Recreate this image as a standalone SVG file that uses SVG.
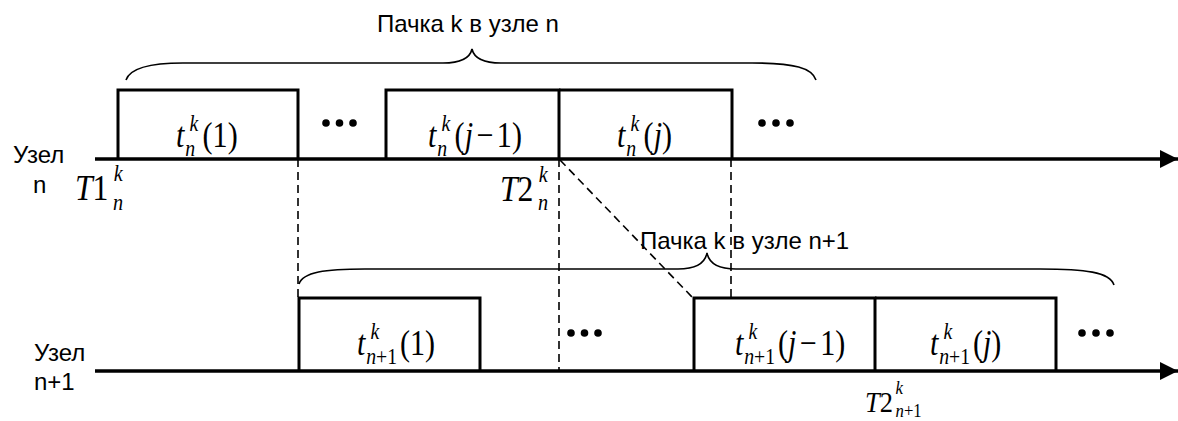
<svg xmlns="http://www.w3.org/2000/svg" width="1178" height="421" viewBox="0 0 1178 421">
<defs>
<style>
.ax{stroke:#000;stroke-width:3.5;fill:none}
.bx{stroke:#000;stroke-width:3;fill:none}
.ds{stroke:#000;stroke-width:1.6;stroke-dasharray:8 5;fill:none}
.br{stroke:#000;stroke-width:1.6;fill:none}
.lbl{font-family:"Liberation Sans",Arial,sans-serif;font-size:24px;fill:#000}
.m{font-family:"Liberation Serif","Times New Roman",serif;font-size:35px;fill:#000}
.mt{font-family:"Liberation Serif","Times New Roman",serif;font-size:36px;fill:#000}
.mb{font-family:"Liberation Serif","Times New Roman",serif;font-size:30px;fill:#000}
.i{font-style:italic}
.s{font-size:23px}
.ss{font-size:19px}
.dot{fill:#000}
</style>
<marker id="ah" markerUnits="userSpaceOnUse" markerWidth="20" markerHeight="20" refX="18" refY="9" orient="auto">
<path d="M0,0 L18,9 L0,18 z" fill="#000"/>
</marker>
</defs>
<rect width="1178" height="421" fill="#fff"/>

<g id="connectors">
<line class="ax" x1="95" y1="159" x2="1178" y2="159" marker-end="url(#ah)"/>
<line class="ax" x1="95" y1="371" x2="1178" y2="371" marker-end="url(#ah)"/>
<line class="ds" x1="298" y1="159" x2="298" y2="298"/>
<line class="ds" x1="559" y1="159" x2="559" y2="371"/>
<line class="ds" x1="731" y1="159" x2="731" y2="298"/>
<line class="ds" x1="560" y1="160" x2="692" y2="297"/>
</g>

<g id="brace-top">
<path class="br" d="M126,80 C130,68 150,63 183,63 L443,63 C462,63 470,58 472,49 C474,58 482,63 501,63 L752,63 C795,63 812,68 816,80"/>
<text class="lbl" x="377" y="32">Пачка k в узле n</text>
</g>
<g id="brace-bottom">
<path class="br" d="M299,284 C303,272 325,269 365,269 L678,269 C697,269 705,263 707,253 C709,263 717,269 736,269 L1040,269 C1085,269 1110,272 1114,285"/>
<text class="lbl" x="640" y="249">Пачка k в узле n+1</text>
</g>

<g id="node-label-n">
<text class="lbl" x="13" y="163">Узел</text>
<text class="lbl" x="33" y="193">n</text>
</g>
<g id="node-label-n1">
<text class="lbl" x="34" y="361">Узел</text>
<text class="lbl" x="34" y="390">n+1</text>
</g>

<g id="box-n-1">
<path class="bx" d="M118,159 V90 H298 V159"/>
<text class="m" transform="translate(176,147) scale(0.86,1)"><tspan class="i">t</tspan><tspan class="s i" dx="1" dy="9">n</tspan><tspan class="s i" dx="-6.5" dy="-25">k</tspan><tspan dx="5" dy="16">(1)</tspan></text>
</g>
<g id="box-n-j1">
<path class="bx" d="M386,159 V90 H559 V159"/>
<text class="m" transform="translate(428,147) scale(0.86,1)"><tspan class="i">t</tspan><tspan class="s i" dx="1" dy="9">n</tspan><tspan class="s i" dx="-6.5" dy="-25">k</tspan><tspan dx="5" dy="16">(</tspan><tspan class="i">j</tspan><tspan dx="4">−</tspan><tspan dx="4">1)</tspan></text>
</g>
<g id="box-n-j">
<path class="bx" d="M559,90 H732 V159"/>
<text class="m" transform="translate(617,147) scale(0.86,1)"><tspan class="i">t</tspan><tspan class="s i" dx="1" dy="9">n</tspan><tspan class="s i" dx="-6.5" dy="-25">k</tspan><tspan dx="5" dy="16">(</tspan><tspan class="i">j</tspan><tspan>)</tspan></text>
</g>

<g id="box-n1-1">
<path class="bx" d="M299,371 V298 H480 V371"/>
<text class="m" transform="translate(357,355) scale(0.86,1)"><tspan class="i">t</tspan><tspan class="s i" dx="1" dy="9">n</tspan><tspan class="s">+1</tspan><tspan class="s i" dx="-31" dy="-25">k</tspan><tspan dx="24" dy="16">(1)</tspan></text>
</g>
<g id="box-n1-j1">
<path class="bx" d="M694,371 V298 H875 V371"/>
<text class="m" transform="translate(735,355) scale(0.86,1)"><tspan class="i">t</tspan><tspan class="s i" dx="1" dy="9">n</tspan><tspan class="s">+1</tspan><tspan class="s i" dx="-31" dy="-25">k</tspan><tspan dx="24" dy="16">(</tspan><tspan class="i">j</tspan><tspan dx="4">−</tspan><tspan dx="4">1)</tspan></text>
</g>
<g id="box-n1-j">
<path class="bx" d="M875,298 H1056 V371"/>
<text class="m" transform="translate(930,355) scale(0.86,1)"><tspan class="i">t</tspan><tspan class="s i" dx="1" dy="9">n</tspan><tspan class="s">+1</tspan><tspan class="s i" dx="-31" dy="-25">k</tspan><tspan dx="24" dy="16">(</tspan><tspan class="i">j</tspan><tspan>)</tspan></text>
</g>

<g id="ellipses">
<circle class="dot" cx="326" cy="123" r="3.8"/><circle class="dot" cx="339.5" cy="123" r="3.8"/><circle class="dot" cx="353" cy="123" r="3.8"/>
<circle class="dot" cx="762" cy="123" r="3.8"/><circle class="dot" cx="776" cy="123" r="3.8"/><circle class="dot" cx="790" cy="123" r="3.8"/>
<circle class="dot" cx="571" cy="333" r="3.8"/><circle class="dot" cx="584.5" cy="333" r="3.8"/><circle class="dot" cx="598" cy="333" r="3.8"/>
<circle class="dot" cx="1082" cy="333" r="3.8"/><circle class="dot" cx="1096" cy="333" r="3.8"/><circle class="dot" cx="1110" cy="333" r="3.8"/>
</g>

<g id="time-marks">
<text class="mt" transform="translate(75,200) scale(0.88,1)"><tspan class="i">T</tspan>1<tspan class="s i" dx="6" dy="-19">k</tspan><tspan class="s i" dx="-11" dy="29">n</tspan></text>
<text class="mt" transform="translate(500,201) scale(0.88,1)"><tspan class="i">T</tspan>2<tspan class="s i" dx="6" dy="-19">k</tspan><tspan class="s i" dx="-11" dy="28">n</tspan></text>
<text class="mb" transform="translate(865,412) scale(0.88,1)"><tspan class="i">T</tspan>2<tspan class="ss i" dx="3" dy="-18">k</tspan><tspan class="ss i" dx="-8.4" dy="23">n</tspan><tspan class="ss">+1</tspan></text>
</g>
</svg>
